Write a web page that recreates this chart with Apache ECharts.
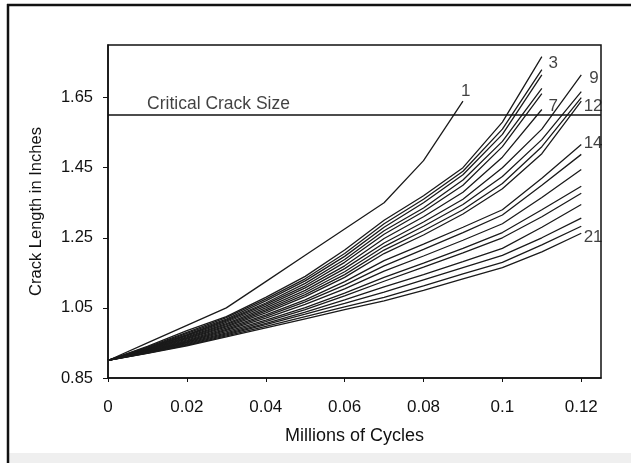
<!DOCTYPE html>
<html>
<head>
<meta charset="utf-8">
<script src="https://cdn.jsdelivr.net/npm/echarts@6/dist/echarts.min.js"></script>
<style>
html,body{margin:0;padding:0;background:#fff;}
#c{width:631px;height:463px;}
</style>
</head>
<body>
<div id="c"></div>
<script>
// X values (millions of cycles)
const cycles = [0, 0.01, 0.02, 0.03, 0.04, 0.05, 0.06, 0.07, 0.08, 0.09, 0.10, 0.11, 0.12];
const xTicks = [0, 0.02, 0.04, 0.06, 0.08, 0.10, 0.12];
const xTickLabels = ['0', '0.02', '0.04', '0.06', '0.08', '0.1', '0.12'];
const yTicks = [0.85, 1.05, 1.25, 1.45, 1.65];
const yTickLabels = ['0.85', '1.05', '1.25', '1.45', '1.65'];
const criticalSize = 1.6;

// Crack length curves (inches)
const curve1  = [0.90, 0.95, 1.00, 1.05, 1.125, 1.20, 1.275, 1.35, 1.47, 1.64];
const curveA1 = [0.90, 0.94, 0.985, 1.025, 1.08, 1.14, 1.215, 1.30, 1.37, 1.45, 1.58, 1.767];
const curveA2 = [0.90, 0.938, 0.98, 1.022, 1.075, 1.133, 1.205, 1.29, 1.36, 1.44, 1.56, 1.73];
const curveA3 = [0.90, 0.936, 0.977, 1.018, 1.07, 1.127, 1.197, 1.28, 1.35, 1.43, 1.545, 1.715];
const curveA4 = [0.90, 0.935, 0.974, 1.015, 1.064, 1.12, 1.188, 1.27, 1.335, 1.415, 1.525, 1.676];
const curveA5 = [0.90, 0.934, 0.972, 1.012, 1.06, 1.113, 1.18, 1.26, 1.325, 1.40, 1.51, 1.661];
const curveA6 = [0.90, 0.933, 0.97, 1.009, 1.055, 1.107, 1.17, 1.248, 1.31, 1.38, 1.48, 1.616];
const curveB1 = [0.90, 0.932, 0.967, 1.005, 1.05, 1.10, 1.162, 1.235, 1.295, 1.36, 1.45, 1.56, 1.715];
const curveB2 = [0.90, 0.931, 0.965, 1.002, 1.045, 1.094, 1.153, 1.225, 1.283, 1.345, 1.425, 1.53, 1.667];
const curveB3 = [0.90, 0.93, 0.963, 0.999, 1.041, 1.088, 1.145, 1.215, 1.27, 1.33, 1.405, 1.51, 1.65];
const curveB4 = [0.90, 0.929, 0.961, 0.996, 1.036, 1.082, 1.137, 1.205, 1.258, 1.318, 1.39, 1.49, 1.64];
const curveC1 = [0.90, 0.928, 0.958, 0.992, 1.03, 1.073, 1.125, 1.185, 1.232, 1.28, 1.33, 1.42, 1.516];
const curveC2 = [0.90, 0.927, 0.956, 0.989, 1.026, 1.067, 1.115, 1.17, 1.217, 1.265, 1.315, 1.40, 1.488];
const curveC3 = [0.90, 0.926, 0.954, 0.986, 1.021, 1.06, 1.104, 1.155, 1.198, 1.243, 1.29, 1.365, 1.445];
const curveC4 = [0.90, 0.925, 0.952, 0.982, 1.015, 1.051, 1.092, 1.137, 1.178, 1.22, 1.265, 1.33, 1.397];
const curveC5 = [0.90, 0.924, 0.95, 0.979, 1.011, 1.045, 1.084, 1.126, 1.166, 1.207, 1.25, 1.31, 1.377];
const curveC6 = [0.90, 0.923, 0.948, 0.976, 1.006, 1.038, 1.073, 1.11, 1.145, 1.182, 1.22, 1.28, 1.345];
const curveC7 = [0.90, 0.922, 0.946, 0.973, 1.002, 1.032, 1.063, 1.095, 1.13, 1.165, 1.20, 1.25, 1.306];
const curveC8 = [0.90, 0.921, 0.944, 0.97, 0.997, 1.025, 1.053, 1.08, 1.113, 1.147, 1.18, 1.23, 1.283];
const curveC9 = [0.90, 0.92, 0.942, 0.967, 0.993, 1.019, 1.045, 1.07, 1.10, 1.133, 1.165, 1.21, 1.263];

const curves = [curve1, curveA1, curveA2, curveA3, curveA4, curveA5, curveA6,
  curveB1, curveB2, curveB3, curveB4,
  curveC1, curveC2, curveC3, curveC4, curveC5, curveC6, curveC7, curveC8, curveC9];

// Annotations (text, x, y in data units)
const noteTexts = ['1', '3', '7', '9', '12', '14', '21', 'Critical Crack Size'];
const noteX = [0.0895, 0.1117, 0.1117, 0.1220, 0.1206, 0.1206, 0.1206, 0.0099];
const noteY = [1.667, 1.747, 1.624, 1.704, 1.624, 1.519, 1.251, 1.632];

const FONT = '"Liberation Sans", Arial, sans-serif';

const series = curves.map((c, k) => ({
  type: 'line',
  name: 'Curve ' + (k + 1),
  data: c.map((v, i) => [cycles[i], v]),
  symbol: 'none',
  silent: true,
  lineStyle: { color: '#1a1a1a', width: 1.3 },
  z: 3
}));

series.push({
  type: 'line',
  name: 'critical',
  data: [],
  markLine: {
    silent: true,
    symbol: 'none',
    label: { show: false },
    lineStyle: { color: '#111', width: 1.5, type: 'solid' },
    data: [{ yAxis: criticalSize }]
  }
});

series.push({
  type: 'scatter',
  name: 'notes',
  silent: true,
  symbolSize: 0,
  data: noteTexts.map((t, i) => ({
    value: [noteX[i], noteY[i]], name: t,
    label: { fontSize: t.length > 3 ? 17.5 : 17 }
  })),
  label: {
    show: true,
    position: 'inside',
    align: 'left',
    verticalAlign: 'middle',
    formatter: p => p.name,
    color: '#111',
    fontFamily: FONT,
    fontSize: 17
  },
  z: 5
});

const chart = echarts.init(document.getElementById('c'), null, { renderer: 'canvas' });
chart.setOption({
  animation: false,
  backgroundColor: '#ffffff',
  grid: {
    left: 108, right: 30, top: 45, bottom: 85,
    show: true, borderColor: '#111', borderWidth: 1.5, backgroundColor: 'transparent'
  },
  xAxis: {
    type: 'value', min: 0, max: 0.125,
    name: 'Millions of Cycles', nameLocation: 'middle', nameGap: 49,
    nameTextStyle: { color: '#111', fontFamily: FONT, fontSize: 18 },
    axisLine: { show: true, onZero: false, lineStyle: { color: '#111', width: 1.5 } },
    axisTick: { show: true, customValues: xTicks, length: 4, lineStyle: { color: '#111' } },
    axisLabel: {
      customValues: xTicks, margin: 21, color: '#111', fontFamily: FONT, fontSize: 17,
      formatter: v => { const i = xTicks.findIndex(t => Math.abs(t - v) < 1e-9); return i >= 0 ? xTickLabels[i] : ''; }
    },
    splitLine: { show: false }
  },
  yAxis: {
    type: 'value', min: 0.85, max: 1.8,
    name: 'Crack Length in Inches', nameLocation: 'middle', nameGap: 63, nameRotate: 90,
    nameTextStyle: { color: '#111', fontFamily: FONT, fontSize: 16.5 },
    axisLine: { show: true, onZero: false, lineStyle: { color: '#111', width: 1.5 } },
    axisTick: { show: true, customValues: yTicks, length: 5, lineStyle: { color: '#111' } },
    axisLabel: {
      customValues: yTicks, margin: 15, color: '#111', fontFamily: FONT, fontSize: 16.5,
      formatter: v => { const i = yTicks.findIndex(t => Math.abs(t - v) < 1e-9); return i >= 0 ? yTickLabels[i] : ''; }
    },
    splitLine: { show: false }
  },
  graphic: [
    { type: 'rect', shape: { x: 9, y: 453, width: 622, height: 10 }, style: { fill: '#efefef' }, silent: true },
    { type: 'line', shape: { x1: 7, y1: 5, x2: 631, y2: 5 }, style: { stroke: '#111', lineWidth: 2.5 }, silent: true },
    { type: 'line', shape: { x1: 8, y1: 4, x2: 8, y2: 463 }, style: { stroke: '#111', lineWidth: 2.5 }, silent: true }
  ],
  series: series
});
</script>
</body>
</html>
